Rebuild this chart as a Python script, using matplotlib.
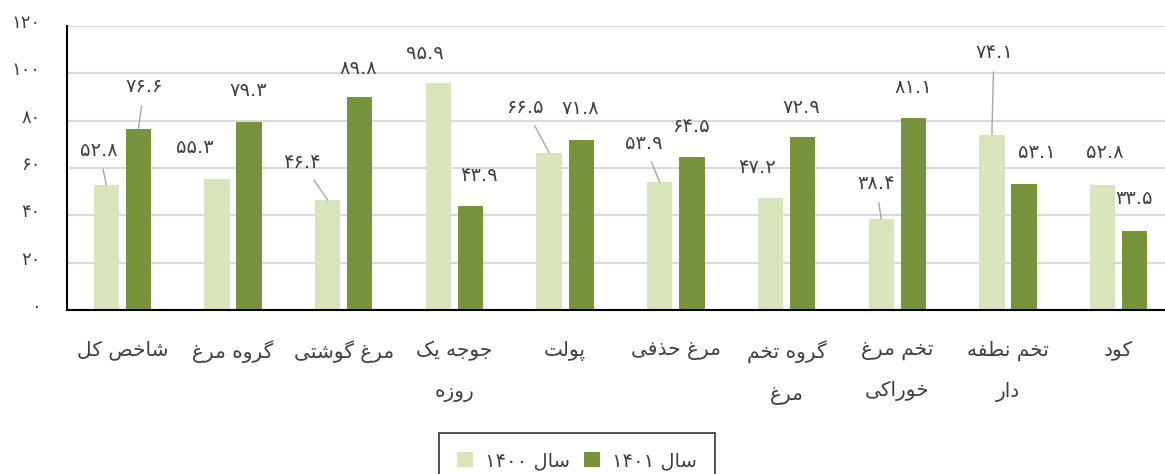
import re

import matplotlib
matplotlib.use("Agg")
import matplotlib.pyplot as plt
import matplotlib.transforms as mtransforms
import numpy as np

# Chart data (left to right as in the picture)
categories = ["شاخص کل", "گروه مرغ", "مرغ گوشتی", "جوجه یک\nروزه", "پولت",
              "مرغ حذفی", "گروه تخم\nمرغ", "تخم مرغ\nخوراکی", "تخم نطفه\nدار", "کود"]
values_1400 = [52.8, 55.3, 46.4, 95.9, 66.5, 53.9, 47.2, 38.4, 74.1, 52.8]
values_1401 = [76.6, 79.3, 89.8, 43.9, 71.8, 64.5, 72.9, 81.1, 53.1, 33.5]
series_names = ["سال ۱۴۰۰", "سال ۱۴۰۱"]
y_ticks = [0, 20, 40, 60, 80, 100, 120]

# Data label placement: offset in pixels from the bar top, and whether a leader line is drawn.
offsets_1400 = [(-7, 35), (-22, 32), (-26, 38), (-14, 30), (-24, 45), (-16, 39), (-13, 31), (-5, 36), (2, 82), (2, 33)]
leader_1400 = [True, False, True, False, True, True, False, True, True, False]
offsets_1401 = [(6, 42), (-1, 32), (-1, 29), (8, 31), (-1, 32), (-1, 31), (-1, 30), (0, 31), (13, 32), (-1, 32)]
leader_1401 = [True, False, False, False, False, False, False, False, False, False]

LIGHT = "#d8e4bc"
DARK = "#77933c"
TEXT = "#404040"
GRID = "#d9d9d9"

# Minimal Persian shaping: (isolated, final, initial, medial); 2-tuple = does not join the next letter.
FORMS = {
    "ا": ("\ufe8d", "\ufe8e"),
    "پ": ("\ufb56", "\ufb57", "\ufb58", "\ufb59"),
    "ت": ("\ufe95", "\ufe96", "\ufe97", "\ufe98"),
    "ج": ("\ufe9d", "\ufe9e", "\ufe9f", "\ufea0"),
    "ح": ("\ufea1", "\ufea2", "\ufea3", "\ufea4"),
    "خ": ("\ufea5", "\ufea6", "\ufea7", "\ufea8"),
    "د": ("\ufea9", "\ufeaa"),
    "ذ": ("\ufeab", "\ufeac"),
    "ر": ("\ufead", "\ufeae"),
    "ز": ("\ufeaf", "\ufeb0"),
    "س": ("\ufeb1", "\ufeb2", "\ufeb3", "\ufeb4"),
    "ش": ("\ufeb5", "\ufeb6", "\ufeb7", "\ufeb8"),
    "ص": ("\ufeb9", "\ufeba", "\ufebb", "\ufebc"),
    "ط": ("\ufec1", "\ufec2", "\ufec3", "\ufec4"),
    "غ": ("\ufecd", "\ufece", "\ufecf", "\ufed0"),
    "ف": ("\ufed1", "\ufed2", "\ufed3", "\ufed4"),
    "ک": ("\ufb8e", "\ufb8f", "\ufb90", "\ufb91"),
    "گ": ("\ufb92", "\ufb93", "\ufb94", "\ufb95"),
    "ل": ("\ufedd", "\ufede", "\ufedf", "\ufee0"),
    "م": ("\ufee1", "\ufee2", "\ufee3", "\ufee4"),
    "ن": ("\ufee5", "\ufee6", "\ufee7", "\ufee8"),
    "ه": ("\ufee9", "\ufeea", "\ufeeb", "\ufeec"),
    "و": ("\ufeed", "\ufeee"),
    "ی": ("\ufbfc", "\ufbfd", "\ufbfe", "\ufbff"),
}


def shape(line):
    out = []
    for i, ch in enumerate(line):
        if ch not in FORMS:
            out.append(ch)
            continue
        prev = line[i - 1] if i > 0 else None
        nxt = line[i + 1] if i + 1 < len(line) else None
        f = FORMS[ch]
        join_prev = prev in FORMS and len(FORMS[prev]) == 4
        join_next = nxt in FORMS and len(f) == 4
        if join_prev and join_next:
            out.append(f[3])
        elif join_prev:
            out.append(f[1])
        elif join_next:
            out.append(f[2])
        else:
            out.append(f[0])
    return "".join(out)


def rtl(text):
    lines = []
    for line in text.split("\n"):
        tokens = re.findall(r"[۰-۹0-9.]+|.", shape(line))
        lines.append("".join(reversed(tokens)))
    return "\n".join(lines)


def fa_num(v):
    return str(v).translate(str.maketrans("0123456789", "۰۱۲۳۴۵۶۷۸۹"))


plt.rcParams["font.family"] = ["DejaVu Sans"]

fig = plt.figure(figsize=(11.65, 4.74), dpi=100)
ax = fig.add_axes([67 / 1165, 164 / 474, 1107 / 1165, 284 / 474])

x = np.arange(len(categories))
w = 0.228
shift = 0.145
bars0 = ax.bar(x - shift, values_1400, w, color=LIGHT, label=rtl(series_names[0]), zorder=2)
bars1 = ax.bar(x + shift, values_1401, w, color=DARK, label=rtl(series_names[1]), zorder=2)

for bars, vals, offs, leads in [(bars0, values_1400, offsets_1400, leader_1400),
                                (bars1, values_1401, offsets_1401, leader_1401)]:
    for b, v, (dx, dy), lead in zip(bars, vals, offs, leads):
        props = dict(arrowstyle="-", color="#a6a6a6", lw=1, shrinkA=5, shrinkB=0) if lead else None
        ax.annotate(fa_num(v), xy=(b.get_x() + b.get_width() / 2, v), xytext=(dx, dy),
                    textcoords="offset pixels", ha="center", va="center",
                    fontsize=14, color=TEXT, arrowprops=props)

ax.set_xlim(-0.5, len(categories) - 0.5)
ax.set_ylim(0, 120)
ax.set_yticks(y_ticks)
ax.set_yticklabels([fa_num(t) for t in y_ticks], fontsize=13, color=TEXT)
ax.set_xticks(x)
ax.set_xticklabels([rtl(c) for c in categories], fontsize=14.5, color=TEXT, linespacing=2.4,
                   va="top")
ax.tick_params(axis="y", length=0, pad=19)
ax.tick_params(axis="x", length=0, pad=22)
lift = mtransforms.ScaledTranslation(0, 5 / 100, fig.dpi_scale_trans)
for lab in ax.get_yticklabels():
    lab.set_transform(lab.get_transform() + lift)

ax.grid(axis="y", color=GRID, lw=1.5, zorder=0)
ax.set_axisbelow(True)
for side in ["top", "right"]:
    ax.spines[side].set_visible(False)
for side in ["left", "bottom"]:
    ax.spines[side].set_color("black")
    ax.spines[side].set_linewidth(1.5)

leg = fig.legend(loc="upper left", bbox_to_anchor=(439 / 1165, 1 - 433 / 474), ncol=2,
                 fontsize=14, frameon=True, fancybox=False, edgecolor="black",
                 handlelength=0.8, handleheight=0.8, columnspacing=0.75, handletextpad=0.6,
                 borderpad=0.95, borderaxespad=0, labelcolor=TEXT)
leg.get_frame().set_linewidth(1.2)

fig.savefig("out.png", dpi=100)
